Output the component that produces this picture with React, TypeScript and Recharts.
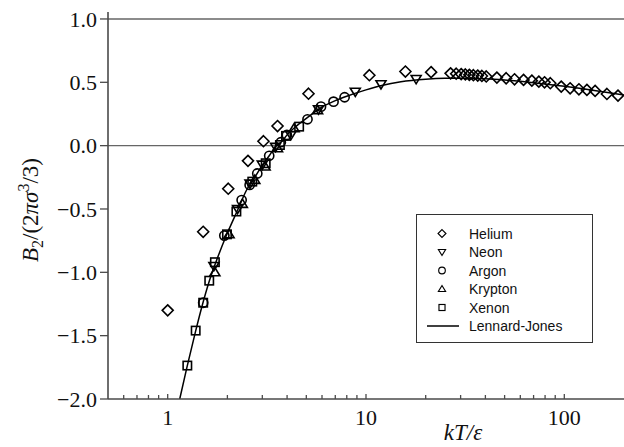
import React from 'react';
import {
  ComposedChart, Line, Scatter, XAxis, YAxis, ReferenceLine, Legend
} from 'recharts';

// reduced temperature kT/ε and reduced second virial coefficient
const heliumT = [1.0, 1.51, 2.02, 2.54, 3.04, 3.58, 5.13, 10.4, 15.8, 21.3, 26.7, 28.5, 30.2, 31.7, 33.2, 34.8, 36.6, 38.4, 40.4, 45.7, 50.9, 56.1, 62.3, 68.6, 74.4, 79.5, 85.0, 96.5, 107, 118.5, 130, 143, 164, 186.5];
const heliumB = [-1.3, -0.68, -0.34, -0.12, 0.035, 0.155, 0.41, 0.556, 0.585, 0.58, 0.571, 0.568, 0.565, 0.562, 0.559, 0.556, 0.553, 0.55, 0.546, 0.537, 0.532, 0.524, 0.519, 0.513, 0.505, 0.5, 0.493, 0.466, 0.453, 0.445, 0.44, 0.432, 0.408, 0.395];

const neonT = [1.71, 2.25, 2.6, 3.0, 3.5, 4.18, 5.76, 8.83, 11.9, 17.9];
const neonB = [-0.95, -0.5, -0.3, -0.15, -0.01, 0.084, 0.287, 0.426, 0.485, 0.526];

const argonT = [1.51, 1.93, 2.36, 2.59, 2.83, 3.25, 3.72, 3.99, 5.07, 5.93, 6.86, 7.8];
const argonB = [-1.24, -0.71, -0.43, -0.31, -0.22, -0.08, 0.027, 0.084, 0.208, 0.308, 0.347, 0.382];

const kryptonT = [1.73, 2.04, 2.38, 2.75, 3.1, 3.58, 4.34, 5.7];
const kryptonB = [-1.0, -0.7, -0.46, -0.27, -0.165, -0.02, 0.137, 0.28];

const xenonT = [1.256, 1.384, 1.51, 1.62, 1.73, 1.99, 2.22, 2.67, 3.12, 3.68, 3.95, 4.6];
const xenonB = [-1.736, -1.46, -1.24, -1.066, -0.92, -0.7, -0.52, -0.284, -0.139, 0.005, 0.077, 0.15];

const ljT = [1.15, 1.25, 1.38, 1.5, 1.62, 1.75, 2.0, 2.25, 2.5, 2.75, 3.0, 3.25, 3.5, 3.75, 4.0, 4.5, 5, 6, 7, 8, 10, 12, 15, 20, 25, 30, 40, 50, 70, 100, 150, 200];
const ljB = [-2.0, -1.75, -1.47, -1.25, -1.07, -0.92, -0.69, -0.51, -0.35, -0.25, -0.155, -0.08, -0.005, 0.03, 0.085, 0.16, 0.215, 0.305, 0.355, 0.39, 0.44, 0.475, 0.505, 0.525, 0.532, 0.533, 0.528, 0.518, 0.497, 0.468, 0.43, 0.4];

const xTicks = [0.6, 0.7, 0.8, 0.9, 1, 2, 3, 4, 5, 6, 7, 8, 9, 10, 20, 30, 40, 50, 60, 70, 80, 90, 100];
const xLabels = [1, 10, 100];
const yTicks = [-2, -1.5, -1, -0.5, 0, 0.5, 1];

const pts = (t: number[], b: number[]) => t.map((x, i) => ({ x, y: b[i] }));

const serif = '"Liberation Serif", "DejaVu Serif", serif';
const sans = '"Liberation Sans", Arial, sans-serif';
const axisGray = '#4a4a4a';

type Kind = 'diamond' | 'down' | 'circle' | 'up' | 'square';

const MarkerPath = ({ kind, cx, cy }: { kind: Kind; cx: number; cy: number }) => {
  const common = { fill: 'none', stroke: '#000', strokeWidth: 1.6 };
  if (kind === 'diamond') {
    const r = 5.5;
    return <polygon points={`${cx},${cy - r} ${cx + r},${cy} ${cx},${cy + r} ${cx - r},${cy}`} {...common} />;
  }
  if (kind === 'circle') return <circle cx={cx} cy={cy} r={4.6} {...common} />;
  if (kind === 'square') return <rect x={cx - 4.2} y={cy - 4.2} width={8.4} height={8.4} {...common} />;
  if (kind === 'down') {
    return <polygon points={`${cx - 5},${cy - 3.5} ${cx + 5},${cy - 3.5} ${cx},${cy + 4.8}`} {...common} />;
  }
  return <polygon points={`${cx - 5},${cy + 3.5} ${cx + 5},${cy + 3.5} ${cx},${cy - 4.8}`} {...common} />;
};

const shapeOf = (kind: Kind) => (props: any) => {
  if (props.cx == null || props.cy == null) return <g />;
  return <MarkerPath kind={kind} cx={props.cx} cy={props.cy} />;
};

const XTick = (props: any) => {
  const { x, y, payload } = props;
  const v = payload.value;
  const major = xLabels.includes(v);
  return (
    <g>
      <line x1={x} x2={x} y1={y} y2={y - (major ? 5 : 4)} stroke={axisGray} strokeWidth={1.3} />
      {major && (
        <text x={x} y={y + 26} textAnchor="middle" fontFamily={serif} fontSize={22} fill="#111">
          {v}
        </text>
      )}
    </g>
  );
};

const YLabel = () => (
  <text
    x={38}
    y={210}
    transform="rotate(-90 38 210)"
    textAnchor="middle"
    fontFamily={serif}
    fontSize={23}
    fill="#111"
  >
    <tspan fontStyle="italic">B</tspan>
    <tspan fontSize={16} dy={5}>2</tspan>
    <tspan dy={-5}>/(2</tspan>
    <tspan fontStyle="italic">πσ</tspan>
    <tspan fontSize={16} dy={-9}>3</tspan>
    <tspan dy={9}>/3)</tspan>
  </text>
);

const XLabel = () => (
  <text x={463} y={440} textAnchor="middle" fontFamily={serif} fontSize={23} fontStyle="italic" fill="#111">
    kT/ε
  </text>
);

const legendRows: { name: string; kind: Kind | 'line' }[] = [
  { name: 'Helium', kind: 'diamond' },
  { name: 'Neon', kind: 'down' },
  { name: 'Argon', kind: 'circle' },
  { name: 'Krypton', kind: 'up' },
  { name: 'Xenon', kind: 'square' },
  { name: 'Lennard-Jones', kind: 'line' },
];

const LegendBox = () => (
  <svg width={177} height={129} style={{ display: 'block' }}>
    <rect x={0.5} y={0.5} width={176} height={128} fill="#fff" stroke="#333" strokeWidth={1} />
    {legendRows.map((r, i) => {
      const cy = 19.5 + i * 18.5;
      return (
        <g key={r.name}>
          {r.kind === 'line' ? (
            <line x1={11} x2={43} y1={cy} y2={cy} stroke="#000" strokeWidth={1.5} />
          ) : (
            <g transform={`translate(${26},${cy}) scale(0.72) translate(${-26},${-cy})`}>
              <MarkerPath kind={r.kind} cx={26} cy={cy} />
            </g>
          )}
          <text x={53} y={cy + 5} fontFamily={sans} fontSize={14} fill="#111">{r.name}</text>
        </g>
      );
    })}
  </svg>
);

const fmtY = (v: number) => v.toFixed(1).replace('-', '\u2212');

export default function App() {
  return (
    <div style={{ position: 'absolute', left: 0, top: 0, background: '#fff' }}>
      <ComposedChart
        width={624}
        height={447}
        margin={{ top: 12, right: 0, bottom: 8, left: 48 }}
      >
        <XAxis
          dataKey="x"
          type="number"
          scale="log"
          domain={[0.5, 200]}
          allowDataOverflow
          ticks={xTicks}
          interval={0}
          tick={<XTick />}
          tickLine={false}
          tickSize={0}
          tickMargin={0}
          height={40}
          axisLine={{ stroke: axisGray, strokeWidth: 1.6 }}
          label={<XLabel />}
        />
        <YAxis
          dataKey="y"
          type="number"
          domain={[-2, 1.055]}
          allowDataOverflow
          ticks={yTicks}
          interval={0}
          width={60}
          tickSize={8}
          tickMargin={3}
          tickFormatter={fmtY}
          tick={{ fontFamily: serif, fontSize: 22, fill: '#111' }}
          tickLine={{ stroke: axisGray, strokeWidth: 1.3 }}
          axisLine={{ stroke: axisGray, strokeWidth: 1.6 }}
          label={<YLabel />}
        />
        <ReferenceLine y={1} stroke="#666" strokeWidth={1.4} />
        <ReferenceLine y={0} stroke="#666" strokeWidth={1.4} />
        <Line
          data={pts(ljT, ljB)}
          dataKey="y"
          type="monotone"
          stroke="#000"
          strokeWidth={1.5}
          dot={false}
          activeDot={false}
          isAnimationActive={false}
          name="Lennard-Jones"
        />
        <Scatter data={pts(heliumT, heliumB)} dataKey="y" shape={shapeOf('diamond')} isAnimationActive={false} name="Helium" />
        <Scatter data={pts(neonT, neonB)} dataKey="y" shape={shapeOf('down')} isAnimationActive={false} name="Neon" />
        <Scatter data={pts(argonT, argonB)} dataKey="y" shape={shapeOf('circle')} isAnimationActive={false} name="Argon" />
        <Scatter data={pts(kryptonT, kryptonB)} dataKey="y" shape={shapeOf('up')} isAnimationActive={false} name="Krypton" />
        <Scatter data={pts(xenonT, xenonB)} dataKey="y" shape={shapeOf('square')} isAnimationActive={false} name="Xenon" />
        <Legend
          layout="horizontal"
          verticalAlign="middle"
          align="center"
          content={<LegendBox />}
          wrapperStyle={{ position: 'absolute', left: 416, top: 214, width: 177, height: 129 }}
        />
      </ComposedChart>
    </div>
  );
}
